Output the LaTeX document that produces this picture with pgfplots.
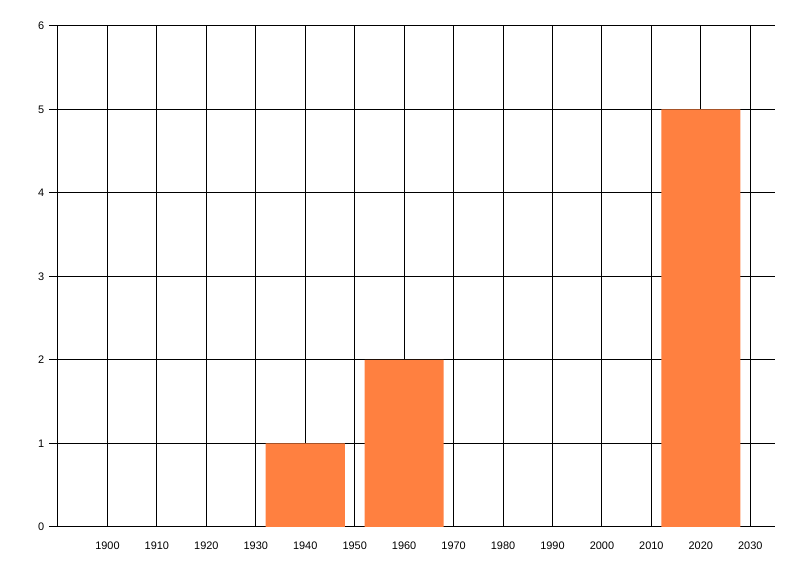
\documentclass[border=0pt]{standalone}
\usepackage{pgfplots}
\pgfplotsset{compat=1.18}
\usepackage{fontspec}
\setmainfont{Liberation Sans}
\usetikzlibrary{calc}
\definecolor{barorange}{RGB}{255,128,64}
\begin{document}
\begin{tikzpicture}
\begin{axis}[
  scale only axis,
  width=537.75pt, height=375.75pt,
  xmin=1890, xmax=2035, ymin=0, ymax=6,
  axis x line=bottom, axis y line=left,
  axis line style={-, line width=0.75pt, black},
  xtick={1900,1910,...,2030},
  ytick={0,1,...,6},
  grid=major,
  major grid style={line width=0.75pt, black},
  x tick label style={/pgf/number format/1000 sep={}, font=\fontsize{8.2}{9}\selectfont, yshift=-0.5pt},
  y tick label style={font=\fontsize{8.2}{9}\selectfont},
  /pgf/number format/assume math mode=true,
  xtick style={draw=none},
  ytick style={line width=0.75pt, black},
  tick align=outside,
  major tick length=6.75pt,
  ybar, bar width=16,
]
\addplot[fill=barorange, draw=none] coordinates {(1940,1) (1960,2) (2020,5)};
\end{axis}
\path[use as bounding box] ($(current axis.south west)+(-43.5pt,-36.75pt)$) rectangle ($(current axis.north east)+(18.75pt,19.5pt)$);
\end{tikzpicture}
\end{document}
